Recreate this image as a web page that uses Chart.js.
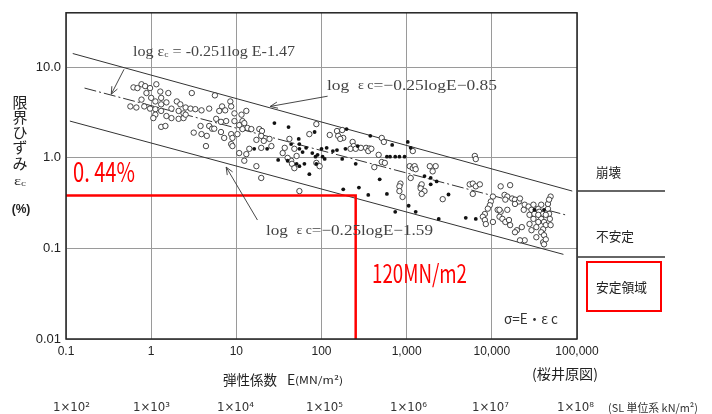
<!DOCTYPE html>
<html lang="ja">
<head>
<meta charset="utf-8">
<title>限界ひずみ - 弾性係数</title>
<script src="https://cdn.jsdelivr.net/npm/chart.js@4.4.1/dist/chart.umd.min.js"></script>
<style>
  html, body { margin: 0; padding: 0; background: #fff; }
  #wrap { position: relative; width: 712px; height: 414px; }
</style>
</head>
<body>
<div id="wrap"><canvas id="chart"></canvas></div>
<script>
// Critical strain vs elastic modulus (log-log).

// open circles: E (MN/m2) and critical strain (%)
const openE = [
  0.62, 0.69, 0.77, 0.85, 0.97, 1.15, 1.28, 0.88, 0.77, 1.0, 1.12, 1.31, 1.59, 1.51, 1.31,
  0.57, 0.67, 0.83, 0.97, 1.12, 1.31, 1.73, 2.0, 2.2, 2.54, 2.1, 2.4, 2.9, 3.0, 3.3,
  3.9, 4.8, 1.73, 2.1, 2.4, 2.54, 1.51, 1.12, 1.06, 1.31, 1.47, 3.8, 3.16, 4.8, 5.2,
  3.9, 4.5, 4.4, 6.8, 7.4, 6.3, 8.5, 8.7, 9.5, 11.5, 13.1, 5.8, 6.6, 7.6, 9.5,
  11.8, 5.5, 6.6, 7.2, 8.7, 10.8, 12.4, 13.5, 15, 11.8, 10.3, 9.0, 18.6, 20, 19.6,
  17.2, 21, 24.5, 25.8, 19.6, 14.2, 8.7, 9.0, 10.8, 13.1, 12.4, 17.2, 19.6, 55, 42,
  48, 51, 72, 44, 45, 5.6, 37, 35, 40, 48, 87, 125, 152, 175, 157,
  180, 166, 232, 239, 219, 252, 290, 334, 365, 354, 385, 510, 540, 469, 510,
  554, 417, 1180, 1085, 1180, 1115, 845, 822, 822, 895, 1460, 87, 95, 1240, 1276,
  1500, 1460, 1620, 1500, 1870, 2190, 2020, 2650, 5500, 5975, 6480, 7230, 5975, 6310, 6480,
  10300, 9740, 9470, 8975, 8280, 7840, 8280, 8500, 10300, 11700, 12700, 12300, 12700, 14100, 15200,
  16400, 14400, 12300, 15200, 13300, 14400, 15900, 16400, 17300, 18700, 20800, 18700, 21400, 19700, 18700,
  22500, 24300, 23700, 27000, 29200, 27700, 30800, 27700, 29200, 33300, 33300, 31600, 35100, 38000, 36000,
  40000, 38000, 35100, 41000, 43000, 40000, 38000, 41000, 40000, 43000, 45600, 47000, 48000, 45600, 49000,
  47000, 43000, 49000, 35100, 30800, 24300, 21400, 41000
];
const openStrain = [
  6.0, 5.9, 6.5, 6.2, 5.9, 6.5, 5.4, 5.2, 4.4, 4.6, 4.2, 4.6, 5.2, 4.1, 3.9,
  3.7, 3.6, 3.7, 3.5, 3.45, 3.3, 3.5, 4.2, 3.9, 3.6, 3.3, 3.1, 3.5, 5.2, 3.45,
  3.35, 3.5, 2.75, 2.7, 2.75, 3.0, 2.9, 3.0, 2.75, 2.2, 2.25, 2.25, 1.9, 2.25, 2.1,
  1.83, 1.75, 1.35, 3.7, 3.35, 3.3, 4.2, 3.7, 3.1, 3.0, 3.3, 2.7, 2.5, 2.55, 2.55,
  2.55, 2.1, 1.93, 1.66, 1.83, 2.3, 2.42, 2.14, 2.08, 2.08, 1.83, 1.66, 2.08, 1.98, 1.75,
  1.58, 1.54, 1.62, 1.35, 1.29, 1.26, 1.42, 1.35, 1.13, 1.1, 0.93, 0.81, 0.6, 0.43, 1.62,
  1.26, 1.05, 1.83, 0.93, 0.86, 4.9, 1.29, 1.13, 1.0, 0.77, 2.36, 1.79, 1.98, 2.03, 1.75,
  1.66, 1.62, 1.5, 1.35, 1.26, 1.26, 1.29, 1.29, 1.27, 1.19, 1.26, 1.66, 1.5, 1.08, 0.9,
  0.88, 0.79, 1.19, 0.81, 0.77, 0.6, 0.52, 0.485, 0.43, 0.37, 0.485, 0.88, 0.81, 0.81, 0.75,
  0.51, 0.46, 0.43, 0.40, 0.81, 0.81, 0.71, 0.35, 0.51, 0.52, 0.485, 0.51, 0.40, 1.05, 0.97,
  0.374, 0.33, 0.30, 0.275, 0.24, 0.224, 0.206, 0.186, 0.196, 0.267, 0.254, 0.224, 0.485, 0.39, 0.374,
  0.50, 0.346, 0.267, 0.267, 0.212, 0.196, 0.206, 0.181, 0.356, 0.346, 0.33, 0.31, 0.356, 0.159, 0.151,
  0.172, 0.304, 0.267, 0.29, 0.267, 0.235, 0.212, 0.186, 0.159, 0.133, 0.172, 0.241, 0.274, 0.304, 0.254,
  0.241, 0.212, 0.196, 0.196, 0.181, 0.163, 0.151, 0.14, 0.117, 0.126, 0.274, 0.241, 0.212, 0.31, 0.374,
  0.346, 0.235, 0.181, 0.235, 0.304, 0.123, 0.123, 0.111
];

// filled dots
const solidE = [
  28, 41, 54, 44, 55, 60, 66, 78, 90, 31, 40, 51, 55, 63, 16.2,
  23, 72, 87, 115, 100, 136, 152, 191, 266, 374, 676, 586, 638, 734, 822,
  945, 1030, 85, 103, 109, 175, 252, 197, 482, 1115, 180, 275, 586, 354, 734,
  1055, 1276, 1620, 1915, 1915, 2250, 3100, 2380, 4940, 6480, 41000, 31600, 83, 55
];
const solidStrain = [
  2.42, 2.19, 1.62, 1.42, 1.26, 1.16, 1.29, 1.13, 1.08, 0.95, 0.93, 0.86, 0.81, 0.86, 1.26,
  1.26, 0.66, 0.86, 1.29, 1.26, 1.19, 1.22, 1.26, 1.35, 1.75, 1.39, 1.03, 1.03, 1.03, 1.03,
  1.03, 1.5, 1.03, 1.03, 0.975, 0.975, 0.86, 2.08, 0.58, 1.29, 0.45, 0.47, 0.40, 0.39, 0.254,
  0.296, 0.254, 0.63, 0.60, 0.51, 0.55, 0.394, 0.212, 0.218, 0.212, 0.267, 0.267, 1.93, 1.42
];

// envelope lines (end points)
const upperE = [0.12, 88000], upperStrain = [14.2, 0.43];
const midE = [0.165, 73000], midStrain = [5.9, 0.235];
const lowerE = [0.111, 69300], lowerStrain = [2.55, 0.086];

// red limit marker
const limitE = [0.1, 252, 252], limitStrain = [0.384, 0.384, 0.01];

// tick positions
const xTicks = [0.1, 1, 10, 100, 1000, 10000, 100000];
const yTicks = [0.01, 0.1, 1, 10];
const yTickText = ["0.01", "0.1", "1.0", "10.0"];

// arrows: [tailE, tailStrain, headE, headStrain]
const arrows = [
  [0.48, 9.5, 0.34, 5.05],
  [118, 4.8, 25, 3.7],
  [17.7, 0.206, 7.6, 0.79],
];

const pairs = (xs, ys) => xs.map((x, i) => ({ x, y: ys[i] }));
const JP = "'Noto Sans CJK JP', sans-serif";
const SERIF = "'Liberation Serif', 'DejaVu Serif', serif";

function txt(ctx, s, x, y, font, color, w, align) {
  ctx.save();
  ctx.font = font;
  ctx.fillStyle = color;
  ctx.textBaseline = "middle";
  ctx.textAlign = align || "left";
  if (w) {
    const m = ctx.measureText(s).width;
    ctx.translate(x, y);
    ctx.scale(w / m, 1);
    ctx.fillText(s, 0, 0);
  } else {
    ctx.fillText(s, x, y);
  }
  ctx.restore();
}

// draw a run of [text, size, dy] pieces, squeezed to width w
function run(ctx, parts, x, y, w, family, color) {
  ctx.save();
  ctx.fillStyle = color;
  ctx.textBaseline = "middle";
  let total = 0;
  parts.forEach(([s, size]) => { ctx.font = size + "px " + family; total += ctx.measureText(s).width; });
  ctx.translate(x, y);
  ctx.scale(w / total, 1);
  let cx = 0;
  parts.forEach(([s, size, dy]) => {
    ctx.font = size + "px " + family;
    ctx.fillText(s, cx, dy || 0);
    cx += ctx.measureText(s).width;
  });
  ctx.restore();
}

const decorPlugin = {
  id: "decor",
  afterDatasetsDraw(chart) {
    const { ctx } = chart;
    const xs = chart.scales.x, ys = chart.scales.y;
    ctx.save();
    ctx.strokeStyle = "#333";
    ctx.lineWidth = 0.9;
    arrows.forEach(([e0, s0, e1, s1]) => {
      const x0 = xs.getPixelForValue(e0), y0 = ys.getPixelForValue(s0);
      const x1 = xs.getPixelForValue(e1), y1 = ys.getPixelForValue(s1);
      const a = Math.atan2(y1 - y0, x1 - x0);
      ctx.beginPath();
      ctx.moveTo(x0, y0);
      ctx.lineTo(x1, y1);
      ctx.moveTo(x1 - 8 * Math.cos(a - 0.4), y1 - 8 * Math.sin(a - 0.4));
      ctx.lineTo(x1, y1);
      ctx.lineTo(x1 - 8 * Math.cos(a + 0.4), y1 - 8 * Math.sin(a + 0.4));
      ctx.stroke();
    });
    ctx.restore();
  },
  afterDraw(chart) {
    const { ctx, chartArea: a } = chart;
    ctx.save();
    ctx.strokeStyle = "#222";
    ctx.lineWidth = 1.5;
    ctx.strokeRect(a.left, a.top, a.right - a.left, a.bottom - a.top);
    ctx.restore();

    // equations
    run(ctx, [["log ε", 15], ["c", 9, 3], [" = -0.251log E-1.47", 15]], 133, 52, 162, SERIF, "#444");
    run(ctx, [["log  ", 15], ["ε c", 12], ["=−0.25logE−0.85", 15]], 327, 86, 170, SERIF, "#444");
    run(ctx, [["log  ", 15], ["ε c", 12], ["=−0.25logE−1.59", 15]], 266, 231, 167, SERIF, "#444");
    txt(ctx, "σ=E・ε c", 504, 319, "14px " + JP, "#333", 54);

    // red annotations
    txt(ctx, "0. 44%", 73, 172, "27px " + JP, "#ff0000", 62);
    txt(ctx, "120MN/m2", 372, 273, "25px " + JP, "#ff0000", 95);

    // y title
    ["限", "界", "ひ", "ず", "み"].forEach((c, i) => txt(ctx, c, 20, 102 + i * 15.2, "15px " + JP, "#222", 0, "center"));
    run(ctx, [["ε", 12], ["c", 8, 2]], 14, 182, 12, SERIF, "#333");
    txt(ctx, "(%)", 21, 210, "bold 12px 'Liberation Sans', sans-serif", "#222", 0, "center");

    // x title
    txt(ctx, "弾性係数", 223, 380, "14px " + JP, "#222", 54);
    txt(ctx, "E", 287, 380, "14px " + JP, "#222");
    txt(ctx, "(MN/m²)", 295, 380, "10px " + JP, "#222", 48);
    txt(ctx, "(桜井原図)", 532, 374, "14px " + JP, "#222", 66);

    // SI row
    const si = ["1×10²", "1×10³", "1×10⁴", "1×10⁵", "1×10⁶", "1×10⁷", "1×10⁸"];
    const siX = [53, 133, 217, 306, 390, 472, 557];
    si.forEach((s, i) => txt(ctx, s, siX[i], 408, "12px 'DejaVu Sans', sans-serif", "#333", 37));
    txt(ctx, "(SL 単位系 kN/m²)", 608, 408, "11px " + JP, "#333", 90);

    // stability panel
    ctx.save();
    ctx.strokeStyle = "#666";
    ctx.lineWidth = 2;
    ctx.beginPath();
    ctx.moveTo(578, 191); ctx.lineTo(665, 191);
    ctx.moveTo(578, 257); ctx.lineTo(665, 257);
    ctx.stroke();
    ctx.strokeStyle = "#ff0000";
    ctx.strokeRect(587, 262, 74, 49);
    ctx.restore();
    txt(ctx, "崩壊", 596, 172, "13px " + JP, "#222", 25);
    txt(ctx, "不安定", 596, 236, "13px " + JP, "#222", 38);
    txt(ctx, "安定領域", 596, 287, "13px " + JP, "#222", 51);
  },
};

const onlyDecades = (list) => (scale) => {
  scale.ticks = list.map((v) => ({ value: v }));
};

new Chart(document.getElementById("chart"), {
  type: "scatter",
  data: {
    datasets: [
      {
        label: "open",
        data: pairs(openE, openStrain),
        pointRadius: 2.7,
        pointBorderWidth: 0.9,
        pointBorderColor: "#333",
        pointBackgroundColor: "#fff",
        order: 2,
      },
      {
        label: "solid",
        data: pairs(solidE, solidStrain),
        pointRadius: 1.9,
        pointBorderWidth: 0,
        pointBackgroundColor: "#111",
        order: 1,
      },
      {
        label: "upper",
        data: pairs(upperE, upperStrain),
        showLine: true, pointRadius: 0, borderColor: "#333", borderWidth: 1, order: 3,
      },
      {
        label: "mid",
        data: pairs(midE, midStrain),
        showLine: true, pointRadius: 0, borderColor: "#333", borderWidth: 1,
        borderDash: [12, 3, 2, 3], order: 3,
      },
      {
        label: "lower",
        data: pairs(lowerE, lowerStrain),
        showLine: true, pointRadius: 0, borderColor: "#333", borderWidth: 1, order: 3,
      },
      {
        label: "limit",
        data: pairs(limitE, limitStrain),
        showLine: true, pointRadius: 0, borderColor: "#ff0000", borderWidth: 2.5, order: 0,
      },
    ],
  },
  options: {
    responsive: true,
    maintainAspectRatio: false,
    animation: false,
    layout: { padding: { top: 10, right: 135, left: 0, bottom: 0 } },
    plugins: { legend: { display: false }, tooltip: { enabled: false } },
    scales: {
      x: {
        type: "logarithmic",
        min: 0.1,
        max: 100000,
        afterBuildTicks: onlyDecades(xTicks),
        afterFit: (s) => { s.height = 75; },
        border: { display: false },
        grid: { color: "#9a9a9a", lineWidth: 1, drawTicks: false },
        ticks: {
          autoSkip: false, maxRotation: 0, padding: 5, color: "#222",
          font: { family: "'Liberation Sans', Arial, sans-serif", size: 12 },
          callback: (v) => (v < 1 ? "0.1" : Number(v).toLocaleString("en-US")),
        },
      },
      y: {
        type: "logarithmic",
        min: 0.01,
        max: 40,
        afterBuildTicks: onlyDecades(yTicks),
        afterFit: (s) => { s.width = 66; },
        border: { display: false },
        grid: { color: "#9a9a9a", lineWidth: 1, drawTicks: false },
        ticks: {
          autoSkip: false, padding: 5, color: "#222",
          font: { family: "'Liberation Sans', Arial, sans-serif", size: 13 },
          callback: (v) => yTickText[yTicks.indexOf(v)] ?? "",
        },
      },
    },
  },
  plugins: [decorPlugin],
});
</script>
</body>
</html>
